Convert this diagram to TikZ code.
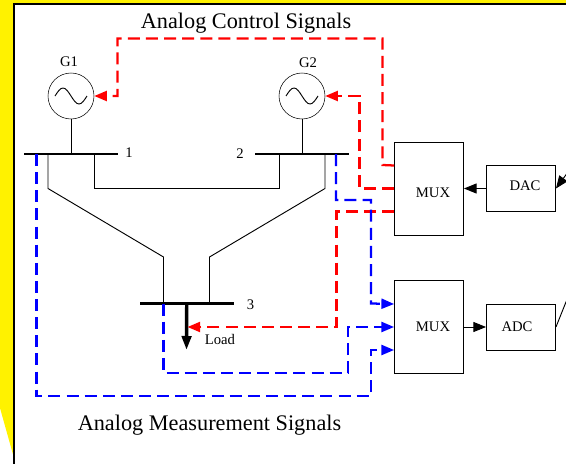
\documentclass[tikz,border=0pt]{standalone}
\usepackage{fontspec}
\setmainfont{Liberation Serif}
\usetikzlibrary{arrows.meta,calc}

\tikzset{
  gen/.style={draw, circle, inner sep=0pt, minimum size=34.5pt},
  busbar/.style={fill=black, inner sep=0pt, minimum height=1.9pt},
  muxbox/.style={draw, inner sep=0pt, minimum width=52pt, minimum height=69.4pt},
  convbox/.style={draw, inner sep=0pt, minimum width=52pt, minimum height=34.6pt},
  txt/.style={font=\fontsize{11}{13}\selectfont, inner sep=0pt},
  bigtxt/.style={font=\fontsize{16.7}{19}\selectfont, inner sep=0pt},
  wire/.style={line width=0.7pt},
  ctrl/.style={red, line width=1.7pt, dash pattern=on 9pt off 4.6pt},
  meas/.style={blue, line width=1.7pt, dash pattern=on 9pt off 4.6pt},
  tip/.style={-{Triangle[length=9.5pt,width=7.5pt]}, shorten >=0pt}
}

\begin{document}
\begin{tikzpicture}[x=0.75pt, y=-0.75pt]
  \useasboundingbox (0,0) rectangle (566,464);

  % Page edge
  \fill[yellow] (0,0) -- (566,0) -- (566,4) -- (14,4) -- (14,458) -- (0,408) -- cycle;
  \draw[line width=1.5pt] (566,3.7) -- (14,3.7) -- (14,464);

  % Generators
  \node[gen] (g1) at (71,96) {};
  \node[gen] (g2) at (302,96) {};
  \foreach \g in {g1,g2} {
    \draw[wire] ([xshift=-12pt]\g.center) sin ++(6pt,6pt) cos ++(6pt,-6pt) sin ++(6pt,-6pt) cos ++(6pt,6pt);
  }
  \node[txt] (g1txt) at (69,62) {G1};
  \node[txt] (g2txt) at (308,63) {G2};

  % Buses
  \node[busbar, minimum width=70.5pt] (bus1) at (71.25,154) {};
  \node[busbar, minimum width=70.5pt] (bus2) at (302.25,154) {};
  \node[busbar, minimum width=70.5pt] (bus3) at (186.75,303.5) {};
  \node[txt] (bus1txt) at (129,153) {1};
  \node[txt] (bus2txt) at (240,154) {2};
  \node[txt] (bus3txt) at (250.5,305) {3};

  % Lines
  \draw[wire] (g1.south) -- (g1.south |- bus1.center);
  \draw[wire] (g2.south) -- (g2.south |- bus2.center);
  \draw[wire] (bus1.center -| 94,0) -- (94,188.5) -- (279,188.5) -- (bus2.center -| 279,0);
  \draw[wire] (bus1.center -| 48,0) -- (48,188.5) -- (163.5,257) -- (bus3.center -| 163.5,0);
  \draw[wire] (bus2.center -| 325,0) -- (325,188.5) -- (209.5,257) -- (bus3.center -| 209.5,0);

  % Load
  \coordinate (loadend) at (186.5,350);
  \coordinate (loadin) at (187.5,327);
  \draw[line width=2.6pt, -{Triangle[length=10.5pt,width=7pt]}] (bus3.center) -- (loadend);
  \node[txt] (loadtxt) at (220,339) {Load};

  % Converters
  \node[muxbox] (mux1) at (429,188.5) {};
  \node[muxbox] (mux2) at (429,327) {};
  \node[convbox] (dac) at (521,188.5) {};
  \node[convbox] (adc) at (521,327) {};
  \node[txt] (mux1txt) at (433,193) {MUX};
  \node[txt] (mux2txt) at (433,327) {MUX};
  \node[txt] (dactxt) at (525,186) {DAC};
  \node[txt] (adctxt) at (517,327) {ADC};
  \coordinate (dacin) at (568,172);
  \coordinate (adcout) at (568,297);
  \draw[wire, tip] (dac.west) -- (mux1.east);
  \draw[wire, tip] (mux2.east) -- (adc.west);
  \draw[wire, tip] (dacin) -- (dac.east);
  \draw[wire] (adc.east) -- (adcout);

  % Control signals
  \draw[ctrl, tip] ([yshift=17.25pt]mux1.west) -- (382.5,165) -- (382.5,38.5) -- (117.5,38.5) -- (117.5,96) -- (g1.east);
  \draw[ctrl, tip] (mux1.west) -- (359.5,188.5) -- (359.5,96) -- (g2.east);
  \draw[ctrl, tip] ([yshift=-17.25pt]mux1.west) -- (336.5,211.5) -- (336.5,327) -- (loadin);

  % Measurement signals
  \draw[meas, tip] (bus2.center -| 336,0) -- (336,200) -- (371,200) -- (371,303.5) -- ([yshift=17.25pt]mux2.west);
  \draw[meas, tip] (bus3.center -| 163.5,0) -- (163.5,373) -- (348,373) -- (348,327) -- (mux2.west);
  \draw[meas, tip] (bus1.center -| 36.5,0) -- (36.5,396) -- (371,396) -- (371,350) -- ([yshift=-17.25pt]mux2.west);

  % Titles
  \node[bigtxt] (ctrltxt) at (246,23) {Analog Control Signals};
  \node[bigtxt] (meastxt) at (209.5,425) {Analog Measurement Signals};
\end{tikzpicture}
\end{document}
